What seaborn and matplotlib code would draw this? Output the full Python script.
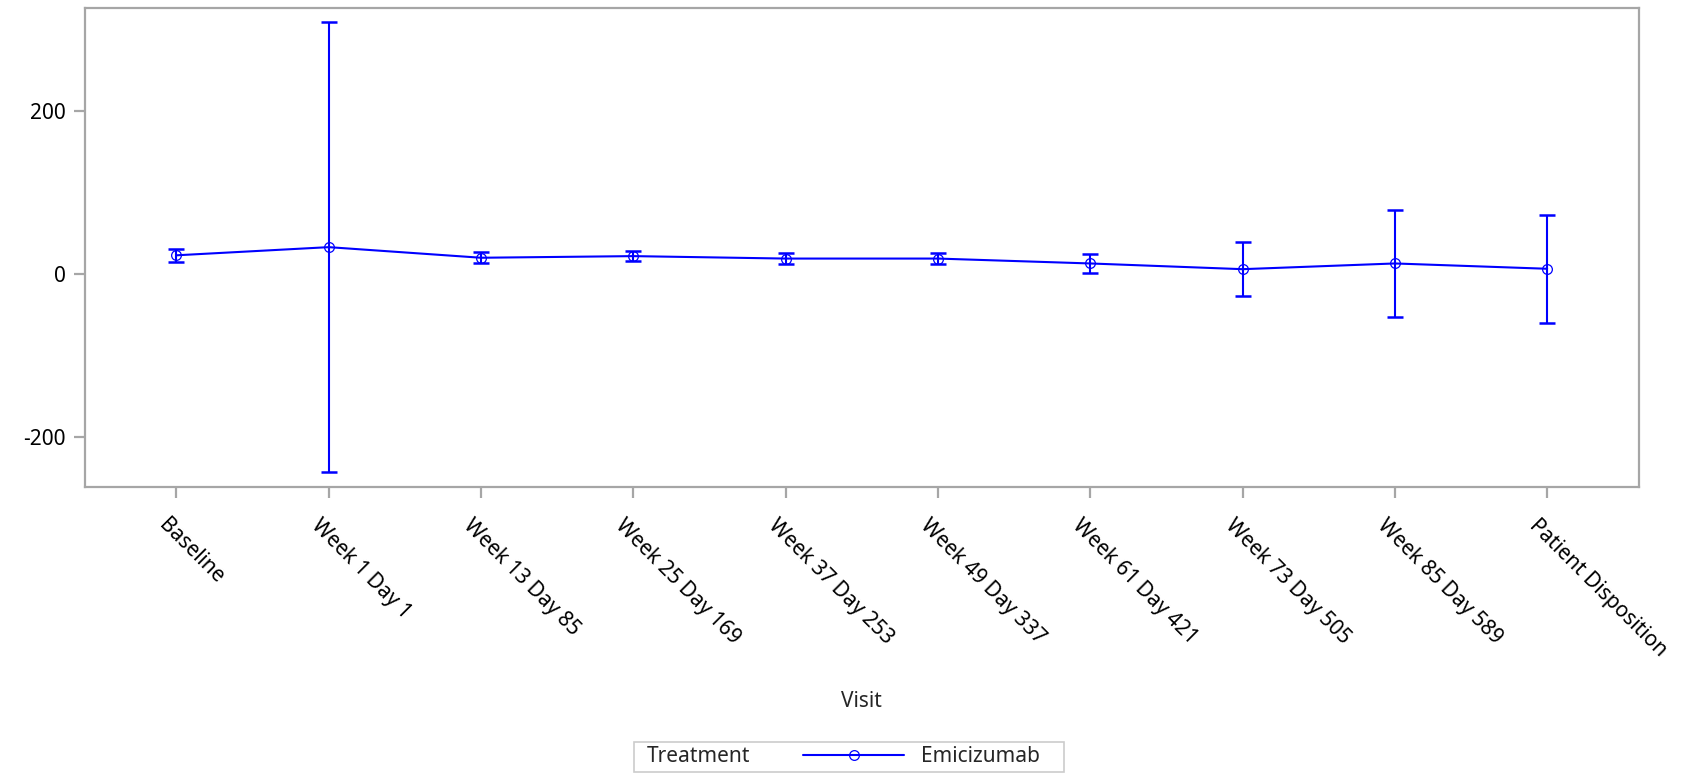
import pandas as pd
import seaborn as sns
import matplotlib.pyplot as plt
import matplotlib.transforms as mtransforms
from matplotlib.patches import Rectangle
from matplotlib.lines import Line2D

sns.set_style("white")
plt.rcParams['font.family'] = ['Noto Sans', 'DejaVu Sans']
plt.rcParams['axes.unicode_minus'] = False

# values
visits = ["Baseline", "Week 1 Day 1", "Week 13 Day 85", "Week 25 Day 169",
          "Week 37 Day 253", "Week 49 Day 337", "Week 61 Day 421",
          "Week 73 Day 505", "Week 85 Day 589", "Patient Disposition"]
means = [23, 33, 20, 22, 19, 19, 13, 6, 13, 6.5]
errs = [8, 276, 6.5, 6.5, 7, 7, 11.5, 33, 66, 66]
treatment = "Emicizumab"

df = pd.DataFrame({"Visit": visits, "Mean": means, "Err": errs,
                   "Treatment": treatment})
df["pos"] = range(len(df))

blue = "#0000ff"
grey = "#a6a6a6"
fs = 15

fig = plt.figure(figsize=(16.84, 7.73), dpi=100)
ax = fig.add_axes([0.0505, 0.37, 0.9225, 0.6195])

ax.errorbar(df["pos"], df["Mean"], yerr=df["Err"], fmt="none",
            ecolor=blue, elinewidth=1.5, capsize=6, capthick=1.8, zorder=2)
sns.lineplot(data=df, x="pos", y="Mean", ax=ax, color=blue, linewidth=1.5,
             marker="o", markersize=7, markerfacecolor="none",
             markeredgecolor=blue, markeredgewidth=0.9, legend=False,
             zorder=3)

ax.set_xlim(-0.6, 9.6)
ax.set_ylim(-261, 326)
ax.set_yticks([-200, 0, 200])
ax.set_xticks(df["pos"])
ax.set_xticklabels(visits, rotation=-45, ha="left", va="top",
                   rotation_mode="anchor")
ax.set_xlabel("Visit", fontsize=fs)
ax.xaxis.set_label_coords(0.5, -0.447)
ax.xaxis.label.set_va("center")
ax.set_ylabel("")

for s in ax.spines.values():
    s.set_color(grey)
    s.set_linewidth(1.6)
ax.tick_params(axis="both", colors=grey, labelcolor="black", labelsize=fs,
               length=8, width=1.6, direction="out",
               left=True, bottom=True)
ax.tick_params(axis="x", pad=5)
ax.tick_params(axis="y", pad=6)

# nudge the rotated labels down-left like the reference
shift = mtransforms.ScaledTranslation(-7 / 100, -10 / 100, fig.dpi_scale_trans)
for lbl in ax.get_xticklabels():
    lbl.set_transform(lbl.get_transform() + shift)

# legend box: "Treatment" then the line key
x0, y0, w, h = 634 / 1684, 1.5 / 773, 430 / 1684, 30 / 773
fig.patches.append(Rectangle((x0, y0), w, h, transform=fig.transFigure,
                             facecolor="white", edgecolor="#cccccc",
                             linewidth=1.2))
fig.text(647 / 1684, y0 + h / 2, "Treatment", fontsize=fs,
         ha="left", va="center")
handle = Line2D([], [], color=blue, linewidth=1.5, marker="o", markersize=7,
                markerfacecolor="none", markeredgewidth=0.9)
fig.legend([handle], [treatment], loc="center left",
           bbox_to_anchor=(803 / 1684, y0 + h / 2), frameon=False,
           fontsize=fs, handlelength=4.85, handletextpad=0.82,
           borderaxespad=0, borderpad=0)

fig.savefig("out.png", dpi=100)
